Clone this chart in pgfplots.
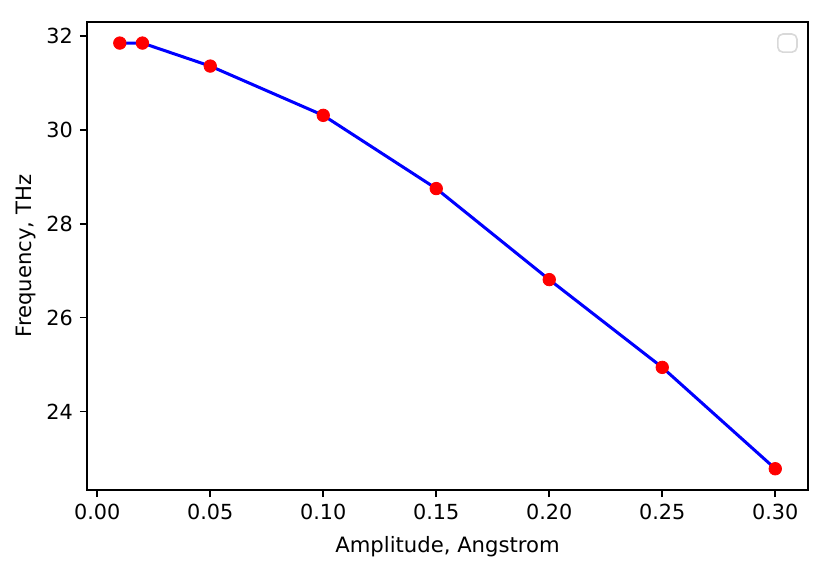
\documentclass[border=0pt]{standalone}
\usepackage{pgfplots}
\pgfplotsset{compat=1.18}
\usepackage{fontspec}
\setmainfont{DejaVu Sans}
\begin{document}
\begin{tikzpicture}
\path[use as bounding box] (-43.2pt,-40.7pt) rectangle (369.2pt,243.2pt);
\begin{axis}[
  at={(0pt,0pt)}, anchor=south west,
  scale only axis, width=357.8pt, height=232.3pt,
  xmin=-0.0045, xmax=0.3145, ymin=22.326, ymax=32.30,
  xtick={0,0.05,0.10,0.15,0.20,0.25,0.30},
  xticklabels={0.00,0.05,0.10,0.15,0.20,0.25,0.30},
  ytick={24,26,28,30,32},
  tick align=outside, tick pos=left,
  major tick length=3.5pt,
  every tick/.style={black, line width=0.8pt},
  axis line style={line width=0.8pt},
  ticklabel style={font=\fontsize{10.3}{12}\selectfont},
  label style={font=\fontsize{10.5}{12.5}\selectfont},
  /pgf/number format/assume math mode=true,
  xlabel={Amplitude, Angstrom},
  ylabel={Frequency, THz},
  xlabel style={yshift=-1.5pt},
  ylabel style={yshift=-1.5pt},
  clip=false,
]
\addplot[only marks, mark=*, mark size=3.1pt, color=red, mark options={fill=red, draw=red}] coordinates {
(0.01,31.85) (0.02,31.85) (0.05,31.36) (0.10,30.31) (0.15,28.75) (0.20,26.81) (0.25,24.94) (0.30,22.78)
};
\addplot[blue, line width=1.5pt, mark=none] coordinates {
(0.01,31.85) (0.02,31.85) (0.05,31.36) (0.10,30.31) (0.15,28.75) (0.20,26.81) (0.25,24.94) (0.30,22.78)
};
\node[draw=black!15, line width=0.8pt, rounded corners=2.5pt, minimum width=9.5pt, minimum height=9pt, inner sep=0pt, anchor=north east, fill=white] at ([xshift=-5.1pt,yshift=-5.6pt]rel axis cs:1,1) {};
\end{axis}
\end{tikzpicture}
\end{document}
